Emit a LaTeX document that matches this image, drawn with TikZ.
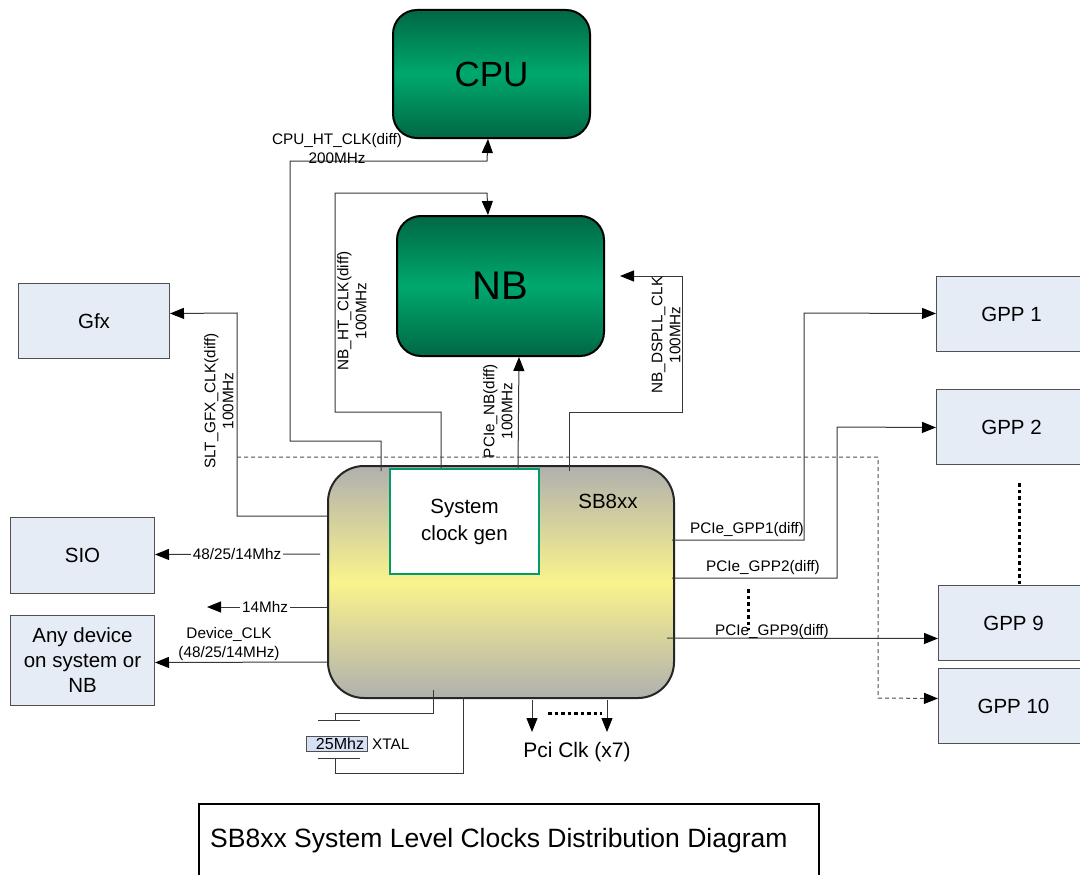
\documentclass[tikz,border=0pt]{standalone}
\usepackage{fontspec}
\setmainfont{Liberation Sans}
\usetikzlibrary{arrows.meta}
\definecolor{gdark}{RGB}{0,104,68}
\definecolor{glight}{RGB}{0,168,110}
\definecolor{boxfill}{RGB}{230,236,246}
\definecolor{boxline}{RGB}{80,80,80}
\definecolor{sbgray}{RGB}{176,176,174}
\definecolor{sbyellow}{RGB}{250,243,140}
\definecolor{wire}{RGB}{55,55,55}
\definecolor{cgreen}{RGB}{0,155,105}
\definecolor{xtalfill}{RGB}{214,224,244}
\definecolor{dashgray}{RGB}{80,80,80}
\newcommand\fsLbl{\fontsize{15.3}{18}\selectfont}
\newcommand\fsBox{\fontsize{20.5}{25}\selectfont}
\begin{document}
\begin{tikzpicture}[x=1pt,y=-1pt,
  chip/.style={draw=black, line width=2pt, rounded corners=24pt, top color=gdark, bottom color=gdark, middle color=glight, anchor=north west, inner sep=0pt},
  dev/.style={draw=boxline, line width=1pt, fill=boxfill, anchor=north west, inner sep=0pt, align=center, font=\fsBox},
  wirel/.style={draw=wire, line width=1pt},
  arr/.style={wirel, -{Triangle[length=14pt,width=11pt,color=black]}},
  dasharr/.style={draw=dashgray, line width=1pt, dash pattern=on 4pt off 3pt, -{Triangle[length=14pt,width=11pt,color=black]}},
  lbl/.style={font=\fsLbl, inner sep=0pt, align=center, text=black},
  dotline/.style={draw=black, line width=3pt, dash pattern=on 3.5pt off 3pt},
]
\path[use as bounding box, fill=white] (0,0) rectangle (1080,875);

% main chips
\node[chip, minimum width=197pt, minimum height=128pt, font=\fontsize{35}{40}\selectfont] (cpu) at (392,9) {CPU};
\node[chip, minimum width=207pt, minimum height=140pt, font=\fontsize{40}{46}\selectfont] (nb) at (396,215) {NB};
\node[draw=black!85, line width=2pt, rounded corners=36pt, top color=sbgray, bottom color=sbgray, middle color=sbyellow, anchor=north west, inner sep=0pt, minimum width=346pt, minimum height=232pt] (sb) at (327,465) {};
\node[font=\fsBox] (sblbl) at (608,501) {SB8xx};
\node[draw=cgreen, line width=2pt, fill=white, anchor=north west, inner sep=0pt, minimum width=149pt, minimum height=105pt, align=center, font=\fontsize{20.5}{27}\selectfont] (clk) at (389,468) {System\\clock gen};

% peripheral boxes
\node[dev, minimum width=151pt, minimum height=75pt] (gfx) at (18,283) {Gfx};
\node[dev, minimum width=144pt, minimum height=76pt] (sio) at (10,517) {SIO};
\node[dev, minimum width=144pt, minimum height=90pt] (anydev) at (10,615) {Any device\\on system or\\NB};
\node[dev, minimum width=150pt, minimum height=75pt] (gpp1) at (936,276) {GPP 1};
\node[dev, minimum width=150pt, minimum height=75pt] (gpp2) at (936,389) {GPP 2};
\node[dev, minimum width=150pt, minimum height=75pt] (gpp9) at (938,585) {GPP 9};
\node[dev, minimum width=150pt, minimum height=75pt] (gpp10) at (938,668) {GPP 10};

% taps and free ends
\coordinate (tCPU) at (381,471);
\coordinate (tNBHT) at (441,468);
\coordinate (tPCIeNB) at (518,468);
\coordinate (tDSPLL) at (569,471);
\coordinate (dsEnd) at (620,276);
\coordinate (tSLT) at (327,516);
\coordinate (dStart) at (237,457);
\coordinate (tSIO) at (320,554);
\coordinate (t14) at (327,607);
\coordinate (e14) at (207,607);
\coordinate (tDev) at (327,662);
\coordinate (tG1) at (672,540);
\coordinate (tG2) at (672,578);
\coordinate (tG9) at (667,638);
\coordinate (p1s) at (532,700);
\coordinate (p1e) at (532,732);
\coordinate (p2s) at (607,700);
\coordinate (p2e) at (607,732);
\coordinate (tX1) at (433,690);
\coordinate (tX2) at (463,697);
\coordinate (plTop) at (335,720);
\coordinate (plBot) at (335,758);

% connectors
\draw[arr] (tCPU) |- (290,441) |- (487,161) -- ([xshift=-3.5pt]cpu.south);
\draw[arr] (tNBHT) |- (335,412) |- (487,193) -- ([xshift=-12.5pt]nb.north);
\draw[arr] (tPCIeNB) -- ([xshift=18.5pt]nb.south);
\draw[arr] (tDSPLL) |- (682,412) |- (dsEnd);
\draw[arr] (tSLT) -| (237,313) -- ([yshift=7.5pt]gfx.east);
\draw[dasharr] (dStart) -| (878,698) -- ([yshift=7.5pt]gpp10.west);
\draw[arr] (tSIO) -- ([yshift=1pt]sio.east);
\draw[arr] (t14) -- (e14);
\draw[arr] (tDev) -- ([yshift=-2pt]anydev.east);
\draw[arr] (tG1) -| (804,313) -- ([yshift=0.5pt]gpp1.west);
\draw[arr] (tG2) -| (837,427) -- ([yshift=-0.5pt]gpp2.west);
\draw[arr] (tG9) -- ([yshift=-15.5pt]gpp9.west);
\draw[arr] (p1s) -- (p1e);
\draw[arr] (p2s) -- (p2e);
\draw[dotline] (548,713) -- (602,713);
\draw[dotline] (748,589) -- (748,630);
\draw[dotline] (1019,483) -- (1019,584);

% crystal
\draw[wirel] (tX1) |- (335,713) -- (plTop);
\draw[wirel] (plBot) |- (463,773) -- (tX2);
\draw[wirel] (318,720) -- (360,720);
\draw[wirel] (318,758) -- (360,758);
\node[draw=boxline, fill=xtalfill, line width=1pt, anchor=north west, inner sep=0pt, minimum width=61pt, minimum height=15pt, font=\fontsize{16}{18}\selectfont] (xtal) at (306,736) {\hspace*{6pt}25Mhz};
\node[lbl, anchor=west] (xtallbl) at (372,744) {XTAL};
\node[font=\fontsize{21}{24}\selectfont] (pcilbl) at (577,752) {Pci Clk (x7)};

% labels
\node[lbl, align=center, font=\fontsize{15.3}{19}\selectfont] (lcpu) at (337,149) {CPU\_HT\_CLK(diff)\\200MHz};
\node[lbl, rotate=90] (lnbht) at (352,311) {NB\_HT\_CLK(diff)\\100MHz};
\node[lbl, rotate=90] (lpcienb) at (498,411) {PCIe\_NB(diff)\\100MHz};
\node[lbl, rotate=90] (ldspll) at (666,335) {NB\_DSPLL\_CLK\\100MHz};
\node[lbl, rotate=90] (lslt) at (219,401) {SLT\_GFX\_CLK(diff)\\100MHz};
\node[lbl, fill=white, inner xsep=2pt] (lsio) at (237,554) {48/25/14Mhz};
\node[lbl, fill=white, inner xsep=2pt] (l14) at (265,607) {14Mhz};
\node[lbl, align=center, font=\fontsize{15.3}{19}\selectfont] (ldev) at (229,644) {Device\_CLK\\(48/25/14MHz)};
\node[lbl] (lg1) at (747,530) {PCIe\_GPP1(diff)};
\node[lbl] (lg2) at (763,568) {PCIe\_GPP2(diff)};
\node[lbl] (lg9) at (772,632) {PCIe\_GPP9(diff)};

% title
\node[draw=black, line width=1.5pt, anchor=north west, inner sep=0pt, minimum width=620pt, minimum height=80pt] (titlebox) at (198,803) {};
\node[anchor=west, inner sep=0pt, font=\fontsize{26.5}{30}\selectfont] (title) at (210,841) {SB8xx System Level Clocks Distribution Diagram};
\end{tikzpicture}
\end{document}
